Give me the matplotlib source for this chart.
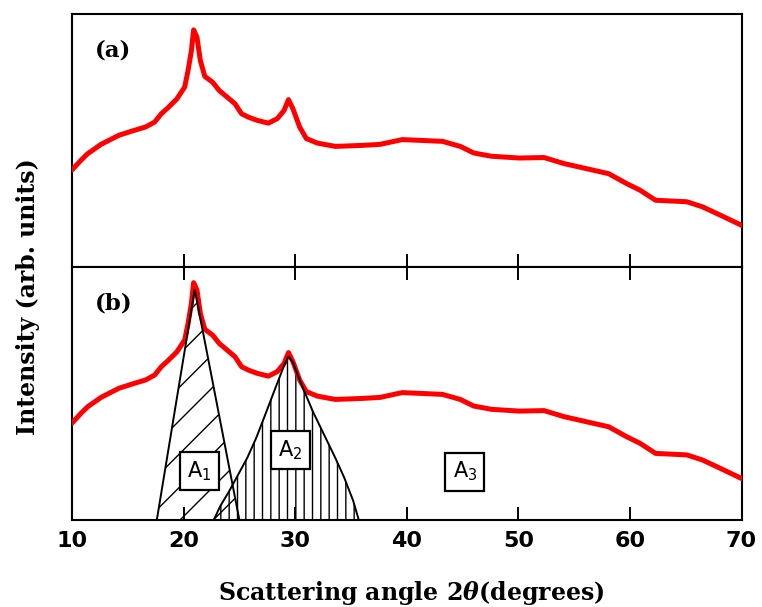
import matplotlib
matplotlib.use("Agg")
import matplotlib.pyplot as plt
from matplotlib.patches import Polygon

plt.rcParams['mathtext.fontset'] = 'custom'
plt.rcParams['mathtext.rm'] = 'DejaVu Sans'
plt.rcParams['mathtext.it'] = 'DejaVu Serif:italic:bold'
plt.rcParams['hatch.linewidth'] = 1.0

# XRD pattern (2theta in degrees, intensity in arb. units 0-100)
two_theta = [9.98, 10.8, 11.4, 12.6, 14.2, 15.4, 16.6, 17.4, 18.0, 18.6, 19.4, 20.1,
             20.4, 20.7, 20.9, 21.2, 21.5, 21.9, 22.6, 23.2, 23.9, 24.6, 25.2, 25.8,
             26.6, 27.6, 28.4, 29.0, 29.4, 29.8, 30.4, 31.0, 32.0, 33.6, 36.0, 37.6,
             39.6, 43.2, 44.8, 46.0, 47.6, 50.1, 52.3, 54.1, 56.1, 58.1, 59.7, 60.9,
             62.3, 65.1, 66.5, 68.1, 70.0]
intensity = [38.2, 42.1, 44.7, 48.4, 52.0, 53.7, 55.3, 57.2, 60.5, 62.9, 66.4, 71.1,
             77.6, 85.5, 93.7, 90.8, 81.6, 75.3, 73.0, 69.7, 67.1, 64.5, 60.5, 59.2,
             57.9, 56.8, 58.6, 61.8, 66.1, 62.5, 55.3, 50.7, 48.9, 47.6, 48.0, 48.4,
             50.3, 49.6, 47.6, 45.0, 43.7, 43.0, 43.2, 40.8, 38.8, 36.8, 32.9, 30.3,
             26.3, 25.7, 23.7, 20.4, 16.4]

# crystalline peak area A1 (triangle)
a1_x = [17.6, 21.0, 25.0]
a1_y = [0, 91.0, 0]

# crystalline peak area A2
a2_x = [22.7, 23.3, 24.1, 24.9, 25.7, 26.5, 27.3, 28.2, 29.0, 29.4, 29.8, 30.6,
        31.6, 32.6, 33.6, 34.4, 35.2, 35.7]
a2_y = [0, 5.6, 11.5, 18.0, 24.5, 32.3, 41.4, 51.8, 60.9, 64.6, 62.2, 53.1,
        42.7, 33.6, 24.5, 16.7, 7.6, 0]

# area labels: text, x, y
area_labels = [(r'$\mathrm{A}_1$', 21.4, 19.3),
               (r'$\mathrm{A}_2$', 29.55, 27.6),
               (r'$\mathrm{A}_3$', 45.2, 19.1)]

xticks = [10, 20, 30, 40, 50, 60, 70]

fig = plt.figure(figsize=(7.62, 6.07), dpi=100)
ax1 = fig.add_axes([0.0945, 0.5606, 0.8786, 0.4164])
ax2 = fig.add_axes([0.0945, 0.1433, 0.8786, 0.4173])

for ax in (ax1, ax2):
    ax.plot(two_theta, intensity, color='#ff0000', lw=3.6, zorder=5,
            solid_capstyle='round', solid_joinstyle='round')
    ax.set_xlim(10, 70)
    ax.set_ylim(0, 100)
    ax.set_yticks([])
    ax.set_xticks(xticks)
    ax.tick_params(axis='x', direction='in', length=9.5, width=1.4)
    for s in ax.spines.values():
        s.set_linewidth(1.5)

ax1.tick_params(axis='x', labelbottom=False)
ax2.tick_params(axis='x', top=True, labelsize=16, pad=8)
for lab in ax2.get_xticklabels():
    lab.set_fontfamily('DejaVu Sans')
    lab.set_fontweight('bold')

ax1.text(0.034, 0.83, '(a)', transform=ax1.transAxes, fontsize=16.5,
         fontweight='bold', family='DejaVu Serif')
ax2.text(0.034, 0.83, '(b)', transform=ax2.transAxes, fontsize=16.5,
         fontweight='bold', family='DejaVu Serif')

# hatched areas below the curve, outlines drawn on top of it
for xs, ys, hatch in ((a1_x, a1_y, '/'), (a2_x, a2_y, '||')):
    pts = list(zip(xs, ys))
    ax2.add_patch(Polygon(pts, closed=True, facecolor='none', edgecolor='black',
                          hatch=hatch, lw=0, zorder=2))
    ax2.add_patch(Polygon(pts, closed=True, fill=False, edgecolor='black',
                          lw=1.4, zorder=6))

for txt, x, y in area_labels:
    ax2.text(x, y, txt, ha='center', va='center', fontsize=15, zorder=7,
             bbox=dict(boxstyle='square,pad=0.35', facecolor='white',
                       edgecolor='black', lw=1.6))

fig.text(0.54, 0.012, r'Scattering angle 2$\theta$(degrees)', ha='center',
         fontsize=17, fontweight='bold', family='DejaVu Serif')
fig.text(0.037, 0.512, 'Intensity (arb. units)', rotation=90, ha='center',
         va='center', fontsize=17, fontweight='bold', family='DejaVu Serif')

fig.savefig('out.png', dpi=100)
